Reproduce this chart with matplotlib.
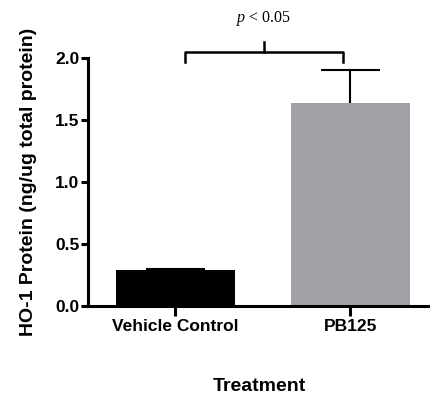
import numpy as np
import matplotlib
matplotlib.use('Agg')
import matplotlib.pyplot as plt

plt.rcParams['font.family'] = ['Liberation Sans', 'DejaVu Sans']
plt.rcParams['mathtext.fontset'] = 'custom'
plt.rcParams['mathtext.it'] = 'Liberation Serif:italic'
plt.rcParams['mathtext.rm'] = 'Liberation Serif'

groups = ['Vehicle Control', 'PB125']
means = [0.29, 1.64]
errs = [0.01, 0.26]
colors = ['#000000', '#a2a2a6']
p_text = '$p$ < 0.05'

fig = plt.figure(figsize=(4.31, 3.96), dpi=100)
ax = fig.add_axes([0.204, 0.227, 0.796, 0.627])

x = np.arange(len(groups))
tops = np.array(means) + np.array(errs)
# error bars: upper half only, stem hidden behind the bar
ax.vlines(x, 0, tops, color='black', lw=1.5, zorder=1)
ax.hlines(tops, x - 0.17, x + 0.17, color='black', lw=1.5, zorder=1)
ax.bar(x, means, width=0.68, color=colors, zorder=2)

ax.set_xlim(-0.5, 1.46)
ax.set_ylim(0, 2.0)
ax.set_yticks([0.0, 0.5, 1.0, 1.5, 2.0])
ax.set_yticklabels(['0.0', '0.5', '1.0', '1.5', '2.0'])
ax.set_xticks(x)
ax.set_xticklabels(groups)

for s in ['top', 'right']:
    ax.spines[s].set_visible(False)
for s in ['left', 'bottom']:
    ax.spines[s].set_linewidth(2.2)

ax.tick_params(axis='y', length=5, width=2.2, labelsize=12.5, pad=1)
ax.tick_params(axis='x', length=7, width=2.2, labelsize=12.5, pad=2)
for lab in ax.get_xticklabels() + ax.get_yticklabels():
    lab.set_fontweight('bold')

ax.set_ylabel('HO-1 Protein (ng/ug total protein)', fontsize=14, fontweight='bold', labelpad=13)
ax.set_xlabel('Treatment', fontsize=14, fontweight='bold', labelpad=32)

# significance bracket
x0, x1 = 0.054, 0.957
yb, ye, yt = 2.05, 1.97, 2.13
xm = (x0 + x1) / 2
ax.plot([x0, x0, x1, x1], [ye, yb, yb, ye], color='black', lw=1.8, clip_on=False,
        solid_joinstyle='round')
ax.plot([xm, xm], [yb, yt], color='black', lw=1.8, clip_on=False)
ax.text(xm, 2.32, p_text, ha='center', va='center', fontsize=11.5,
        family=['Liberation Serif', 'DejaVu Serif'])

fig.savefig('out.png', dpi=100)
